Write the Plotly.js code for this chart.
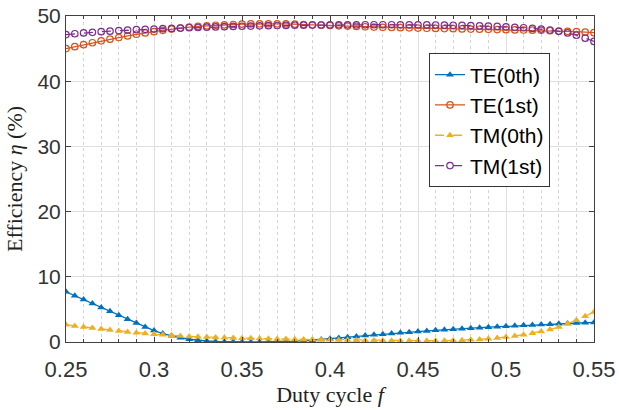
<!DOCTYPE html>
<html>
<head>
<meta charset="utf-8">
<script src="https://cdn.plot.ly/plotly-3.0.1.min.js"></script>
<style>html,body{margin:0;padding:0;background:#fff;}#chart{width:619px;height:410px;}</style>
</head>
<body>
<div id="chart"></div>
<script>
const dutyCycle = [0.25,0.255,0.26,0.265,0.27,0.275,0.28,0.285,0.29,0.295,0.30,0.305,0.31,0.315,0.32,0.325,0.33,0.335,0.34,0.345,0.35,0.355,0.36,0.365,0.37,0.375,0.38,0.385,0.39,0.395,0.40,0.405,0.41,0.415,0.42,0.425,0.43,0.435,0.44,0.445,0.45,0.455,0.46,0.465,0.47,0.475,0.48,0.485,0.49,0.495,0.50,0.505,0.51,0.515,0.52,0.525,0.53,0.535,0.54,0.545,0.55];

const te0 = [7.7,7.1,6.5,5.9,5.3,4.7,4.1,3.5,2.9,2.3,1.75,1.3,0.95,0.65,0.42,0.26,0.15,0.08,0.04,0.02,0.01,0.0,0.0,0.01,0.03,0.07,0.12,0.19,0.27,0.38,0.5,0.62,0.74,0.86,0.98,1.1,1.2,1.3,1.4,1.5,1.6,1.7,1.8,1.88,1.96,2.04,2.12,2.2,2.27,2.34,2.41,2.48,2.55,2.61,2.67,2.73,2.79,2.85,2.9,2.95,3.0];

const te1 = [45.0,45.3,45.6,45.9,46.2,46.45,46.7,46.95,47.2,47.4,47.6,47.8,48.0,48.15,48.3,48.4,48.5,48.58,48.65,48.7,48.75,48.78,48.8,48.8,48.8,48.78,48.75,48.7,48.65,48.6,48.55,48.5,48.45,48.4,48.35,48.3,48.27,48.24,48.21,48.18,48.15,48.12,48.1,48.07,48.05,48.02,48.0,47.97,47.95,47.92,47.9,47.87,47.85,47.82,47.8,47.75,47.7,47.65,47.6,47.52,47.45];

const tm0 = [2.65,2.45,2.3,2.15,2.0,1.85,1.7,1.55,1.42,1.3,1.2,1.1,1.0,0.93,0.86,0.8,0.75,0.7,0.66,0.62,0.59,0.56,0.53,0.5,0.47,0.45,0.42,0.4,0.38,0.36,0.34,0.32,0.3,0.28,0.26,0.24,0.22,0.2,0.19,0.18,0.18,0.18,0.19,0.21,0.24,0.28,0.33,0.4,0.5,0.62,0.76,0.93,1.13,1.35,1.6,1.9,2.3,2.8,3.35,3.95,4.6];

const tm1 = [47.15,47.28,47.4,47.5,47.6,47.68,47.76,47.83,47.9,47.95,48.0,48.05,48.1,48.15,48.2,48.24,48.28,48.32,48.36,48.4,48.43,48.46,48.49,48.52,48.54,48.56,48.58,48.6,48.61,48.62,48.63,48.64,48.65,48.65,48.66,48.66,48.66,48.66,48.65,48.65,48.64,48.63,48.62,48.6,48.58,48.56,48.53,48.49,48.45,48.4,48.34,48.27,48.2,48.1,48.0,47.85,47.65,47.4,47.05,46.6,46.1];

const seriesNames = ['TE(0th)','TE(1st)','TM(0th)','TM(1st)'];
const xTickVals = [0.25,0.3,0.35,0.4,0.45,0.5,0.55];
const xTickText = ['0.25','0.3','0.35','0.4','0.45','0.5','0.55'];
const yTickVals = [0,10,20,30,40,50];

const colors = ['#0072BD','#D95319','#EDB120','#7E2F8E'];

const traces = [
  {x: dutyCycle, y: te0, name: seriesNames[0], mode: 'lines+markers',
   line: {color: colors[0], width: 1.3, dash: 'solid'},
   marker: {symbol: 'triangle-up', size: 7, color: colors[0]}},
  {x: dutyCycle, y: te1, name: seriesNames[1], mode: 'lines+markers',
   line: {color: colors[1], width: 1.3, dash: 'solid'},
   marker: {symbol: 'circle-open', size: 6.5, color: colors[1], line: {width: 1.2}}},
  {x: dutyCycle, y: tm0, name: seriesNames[2], mode: 'lines+markers',
   line: {color: colors[2], width: 1.3, dash: 'dash'},
   marker: {symbol: 'triangle-up', size: 7, color: colors[2]}},
  {x: dutyCycle, y: tm1, name: seriesNames[3], mode: 'lines+markers',
   line: {color: colors[3], width: 1.3, dash: 'dash'},
   marker: {symbol: 'circle-open', size: 6.5, color: colors[3], line: {width: 1.2}}}
];

const axisColor = '#404040';
const layout = {
  width: 619, height: 410,
  margin: {l: 66, r: 25, t: 16, b: 68},
  paper_bgcolor: '#ffffff', plot_bgcolor: '#ffffff',
  showlegend: true,
  legend: {
    x: 0.6875, y: 0.885, xanchor: 'left', yanchor: 'top',
    bgcolor: '#ffffff', bordercolor: '#333333', borderwidth: 1,
    font: {family: 'Liberation Sans, Arial, sans-serif', size: 21, color: '#000000'},
    itemwidth: 30, tracegroupgap: 0
  },
  xaxis: {
    range: [0.25, 0.55],
    tickmode: 'array', tickvals: xTickVals, ticktext: xTickText,
    ticks: 'inside', ticklen: 5, tickcolor: axisColor,
    ticklabelstandoff: 8,
    showline: true, linecolor: axisColor, linewidth: 1, mirror: 'ticks',
    showgrid: true, gridcolor: '#dedede', gridwidth: 1,
    zeroline: false,
    minor: {dtick: 0.01, tick0: 0.25, ticks: 'inside', ticklen: 3, tickcolor: axisColor,
            showgrid: true, gridcolor: '#d4d4d4', griddash: 'dot', gridwidth: 1},
    tickfont: {family: 'Liberation Sans, Arial, sans-serif', size: 22, color: '#333333'},
    title: {text: 'Duty cycle <i>f</i>', standoff: 4,
            font: {family: 'Liberation Serif, Times New Roman, serif', size: 22, color: '#222222'}}
  },
  yaxis: {
    range: [0, 50],
    tickmode: 'array', tickvals: yTickVals,
    ticks: 'inside', ticklen: 5, tickcolor: axisColor,
    showline: true, linecolor: axisColor, linewidth: 1, mirror: 'ticks',
    showgrid: true, gridcolor: '#dedede', gridwidth: 1,
    zeroline: false,
    tickfont: {family: 'Liberation Sans, Arial, sans-serif', size: 21, color: '#333333'},
    title: {text: 'Efficiency <i>η</i> (%)', standoff: 8,
            font: {family: 'Liberation Serif, Times New Roman, serif', size: 22, color: '#222222'}}
  }
};

Plotly.newPlot('chart', traces, layout, {displayModeBar: false, staticPlot: true});
</script>
</body>
</html>
